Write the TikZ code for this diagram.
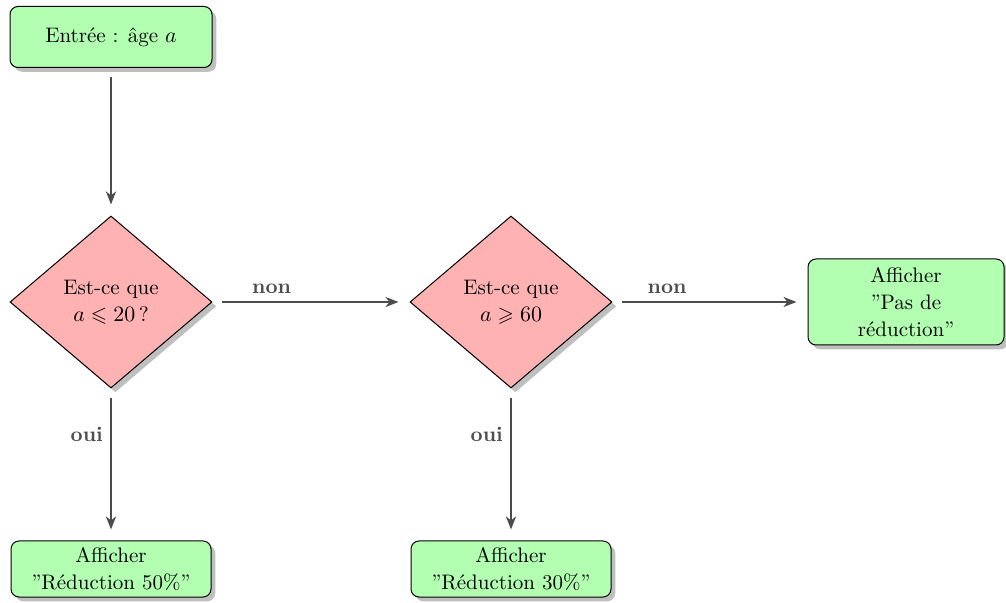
\documentclass[tikz,border=0pt]{standalone}
\usepackage{amssymb}
\usetikzlibrary{shapes.geometric,shadows,arrows.meta}
\begin{document}
\begin{tikzpicture}[x=0.5pt,y=-0.5pt,
  every node/.style={font=\fontsize{10.5}{13.5}\selectfont},
  boxstyle/.style={draw=black, line width=0.5pt, fill=green!30, rounded corners=4pt,
    drop shadow, align=center, inner sep=2pt},
  decstyle/.style={draw=black, line width=0.5pt, fill=red!30, diamond, aspect=1,
    minimum width=101pt, minimum height=86pt, inner sep=1pt, align=center,
    drop shadow},
  arr/.style={draw=black!70, line width=1.4pt,
    -{Stealth[length=6.5pt,width=5pt,inset=2pt]}, shorten <=4.5pt, shorten >=5.5pt},
  lab/.style={font=\fontsize{10.5}{13.5}\selectfont\bfseries, text=black!70}]
\useasboundingbox (0,0) rectangle (1006,603);
\node[boxstyle, minimum width=101pt, minimum height=30.5pt] (start) at (111,37) {Entrée : âge $a$};
\node[decstyle] (d1) at (111,302) {Est-ce que\\$a \leqslant 20$\,?};
\node[decstyle] (d2) at (511,302) {Est-ce que\\$a \geqslant 60$};
\node[boxstyle, minimum width=98pt, minimum height=43pt] (pas) at (906,302) {Afficher\\''Pas de\\réduction''};
\node[boxstyle, minimum width=100pt, minimum height=28pt] (r50) at (111,569) {Afficher\\''Réduction 50\%''};
\node[boxstyle, minimum width=100pt, minimum height=28pt] (r30) at (511,569) {Afficher\\''Réduction 30\%''};
\draw[arr] (start) -- (d1);
\draw[arr] (d1) -- node[lab, above, pos=0.3] {non} (d2);
\draw[arr] (d2) -- node[lab, above, pos=0.28] {non} (pas);
\draw[arr] (d1) -- node[lab, left, pos=0.3] {oui} (r50);
\draw[arr] (d2) -- node[lab, left, pos=0.3] {oui} (r30);
\end{tikzpicture}
\end{document}
